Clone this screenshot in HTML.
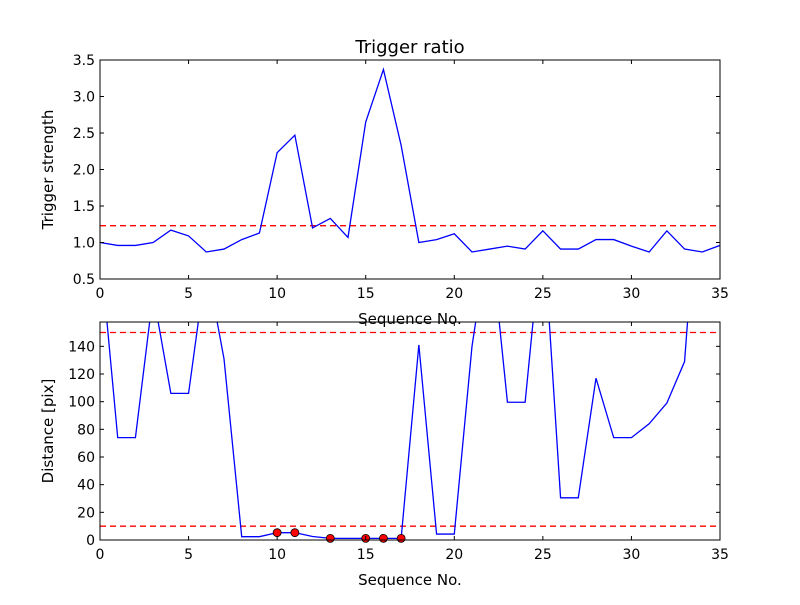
<!DOCTYPE html>
<html><head><meta charset="utf-8"><style>
html,body{margin:0;padding:0;background:#fff;}
svg text{font-family:"DejaVu Sans","Liberation Sans",sans-serif;fill:#000;}
</style></head><body>
<svg id="chart" width="800" height="600" viewBox="0 0 800 600" xmlns="http://www.w3.org/2000/svg">
<rect width="800" height="600" fill="#fff"/>
<text x="410" y="53" font-size="18" text-anchor="middle">Trigger ratio</text>
</svg>
<script>
const seqX = [0,1,2,3,4,5,6,7,8,9,10,11,12,13,14,15,16,17,18,19,20,21,22,23,24,25,26,27,28,29,30,31,32,33,34,35];
const triggerStrength = [1.0,0.96,0.96,1.0,1.17,1.09,0.87,0.91,1.04,1.13,2.23,2.47,1.2,1.33,1.07,2.65,3.37,2.33,1.0,1.04,1.12,0.87,0.91,0.95,0.91,1.16,0.91,0.91,1.04,1.04,0.95,0.87,1.16,0.91,0.87,0.96];
const triggerThreshold = 1.23;
const distance = [212,74,74,178,106,106,200,131,2.4,2.4,5.3,5.3,2.5,1.2,1.2,1.2,1.2,1.2,141,4.3,4.3,140,225,99.6,99.6,230,30.5,30.5,117,74,74,84,99,129,300,300];
const markedX = [10,11,13,15,16,17];
const markedY = [5.3,5.3,1.2,1.2,1.2,1.2];
const distLow = 10, distHigh = 150;
const xTicks = [0,5,10,15,20,25,30,35];
const topYTicks = [0.5,1.0,1.5,2.0,2.5,3.0,3.5];
const topYLabels = ["0.5","1.0","1.5","2.0","2.5","3.0","3.5"];
const botYTicks = [0,20,40,60,80,100,120,140];

const NS="http://www.w3.org/2000/svg";
const svgEl=document.getElementById('chart');
function mk(tag,attrs,parent){const e=document.createElementNS(NS,tag);for(const k in attrs)e.setAttribute(k,attrs[k]);(parent||svgEl).appendChild(e);return e;}

function panel(name,L,T,R,B,ymin,ymax,yt,ylabels,ytitle){
  const g=mk('g',{});
  
  
  const sx=v=>L+(v-0)/(35-0)*(R-L);
  const sy=v=>B-(v-ymin)/(ymax-ymin)*(B-T);
  const cid=name+'-clip';
  const cp=mk('clipPath',{id:cid},g);mk('rect',{x:L,y:T,width:R-L,height:B-T},cp);
  const plot=mk('g',{'clip-path':'url(#'+cid+')'},g);
  return {g,plot,sx,sy,L,T,R,B,yt,ylabels,ytitle};
}
function frame(p){
  const {g,sx,sy,L,T,R,B}=p;
  const fr=mk('rect',{x:L,y:T,width:R-L,height:B-T,fill:'none',stroke:'#000','stroke-width':1},g);
  
  
  xTicks.forEach(v=>{
    const x=sx(v);
    mk('line',{x1:x,x2:x,y1:B,y2:B-4,stroke:'#000'},g);
    mk('line',{x1:x,x2:x,y1:T,y2:T+4,stroke:'#000'},g);
    const t=mk('text',{x:x,y:B+19,'font-size':14,'text-anchor':'middle'},g);
    t.textContent=v;
    
    
  });
  p.yt.forEach((v,i)=>{
    const y=sy(v);
    mk('line',{x1:L,x2:L+4,y1:y,y2:y,stroke:'#000'},g);
    mk('line',{x1:R,x2:R-4,y1:y,y2:y,stroke:'#000'},g);
    const t=mk('text',{x:L-5,y:y+5,'font-size':14,'text-anchor':'end'},g);
    t.textContent=p.ylabels[i];
    
    
  });
  const xl=mk('text',{x:(L+R)/2,y:B+45,'font-size':15,'text-anchor':'middle'},g);
  xl.textContent='Sequence No.';
  
  
  const cy=(T+B)/2;
  const yl=mk('text',{x:0,y:0,'font-size':15,'text-anchor':'middle',transform:'translate('+(L-47)+','+cy+') rotate(-90)'},g);
  yl.textContent=p.ytitle;
  
  
}
function hline(p,v,name){
  const l=mk('line',{x1:p.L,x2:p.R,y1:p.sy(v),y2:p.sy(v),stroke:'#ff0000','stroke-width':1.3,'stroke-dasharray':'6,4'},p.plot);
  
  
}
function series(p,xs,ys,name){
  const d=xs.map((x,i)=>(i?'L':'M')+p.sx(x).toFixed(2)+','+p.sy(ys[i]).toFixed(2)).join(' ');
  const path=mk('path',{d:d,fill:'none',stroke:'#0000ff','stroke-width':1.3},p.plot);
  
  
}

const topPanel=panel('top-panel',100,60,720,279,0.5,3.5,topYTicks,topYLabels,'Trigger strength');
hline(topPanel,triggerThreshold,'threshold-line');
series(topPanel,seqX,triggerStrength,'trigger-strength-line');
frame(topPanel);

const botPanel=panel('bottom-panel',100,322,720,540,0,157.6,botYTicks,botYTicks.map(String),'Distance [pix]');
hline(botPanel,distHigh,'upper-threshold-line');
hline(botPanel,distLow,'lower-threshold-line');
series(botPanel,seqX,distance,'distance-line');
markedX.forEach((x,i)=>{
  const c=mk('circle',{cx:botPanel.sx(x),cy:botPanel.sy(markedY[i]),r:4,fill:'#ff0000',stroke:'#000','stroke-width':0.8},botPanel.g);
  
  
});
frame(botPanel);
</script>
</body></html>
